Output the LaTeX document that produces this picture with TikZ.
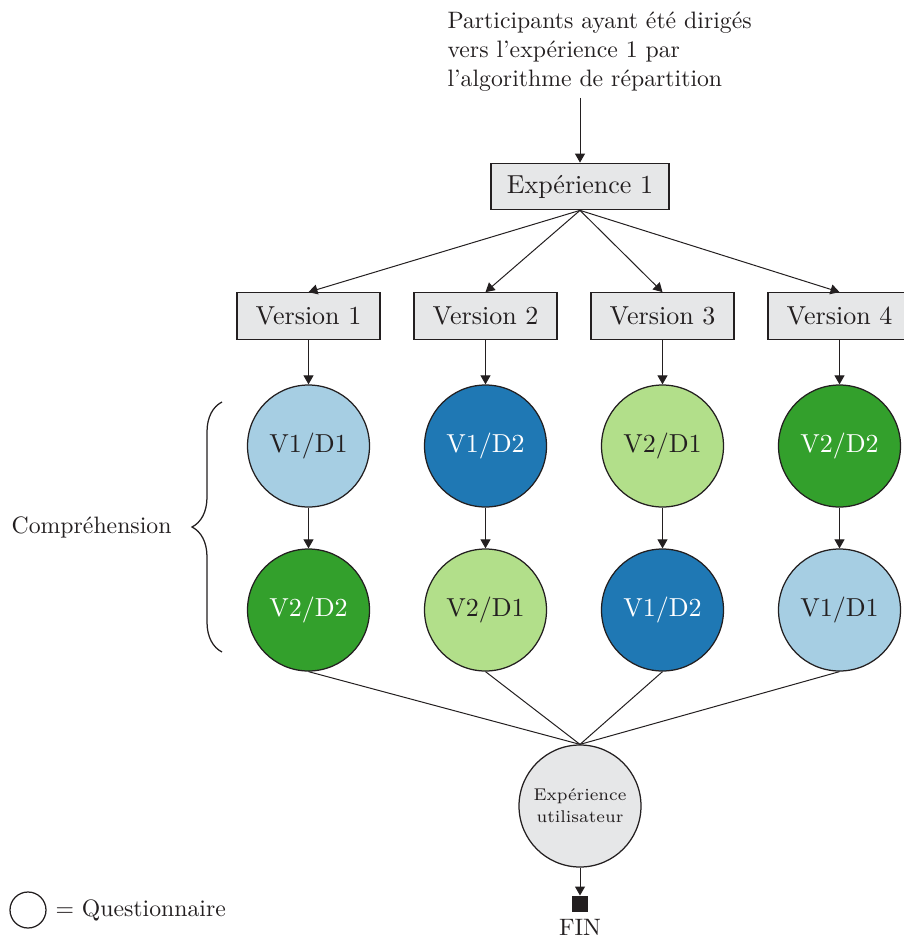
\documentclass[tikz,border=0pt]{standalone}
\usetikzlibrary{arrows.meta,decorations.pathreplacing}
\definecolor{boxgray}{RGB}{230,231,232}
\definecolor{lblue}{HTML}{A6CEE3}
\definecolor{dblue}{HTML}{1F78B4}
\definecolor{lgreen}{HTML}{B2DF8A}
\definecolor{dgreen}{HTML}{33A02C}
\definecolor{ink}{RGB}{35,31,32}
\begin{document}
\begin{tikzpicture}[x=0.4pt,y=-0.4pt,
  every node/.style={text=ink,font=\fontsize{9.5pt}{11.7pt}\selectfont},
  bigtext/.style={font=\fontsize{10.4pt}{12.5pt}\selectfont},
  stepbox/.style={bigtext,draw=ink,fill=boxgray,line width=0.5pt,minimum height=18.6pt,minimum width=57.2pt,inner xsep=3pt,inner ysep=0pt},
  quest/.style={bigtext,circle,draw=ink,line width=0.5pt,minimum size=48.8pt,inner sep=0pt},
  arr/.style={-{Triangle[length=3.6pt,width=4pt]},draw=ink,line width=0.4pt},
  link/.style={draw=ink,line width=0.4pt}]
\useasboundingbox (0,0) rectangle (903,939);

% entry text and first step
\node[anchor=north west,align=left,inner sep=0pt] (intro) at (447,11)
  {Participants ayant été dirigés\\vers l'expérience 1 par\\l'algorithme de répartition};
\coordinate (introarr) at (580,98);
\node[stepbox,minimum width=71.2pt] (exp) at (580,186.5) {Expérience 1};
\draw[arr] (introarr) -- (exp.north);

% the four versions
\node[stepbox] (v1) at (308.5,316) {Version 1};
\node[stepbox] (v2) at (485.5,316) {Version 2};
\node[stepbox] (v3) at (662.5,316) {Version 3};
\node[stepbox] (v4) at (839.5,316) {Version 4};
\foreach \v in {v1,v2,v3,v4} \draw[arr] (exp.south) -- (\v.north);

% comprehension questionnaires
\node[quest,fill=lblue] (a1) at (308.5,446) {V1/D1};
\node[quest,fill=dblue,text=white] (a2) at (485.5,446) {V1/D2};
\node[quest,fill=lgreen] (a3) at (662.5,446) {V2/D1};
\node[quest,fill=dgreen,text=white] (a4) at (839.5,446) {V2/D2};
\node[quest,fill=dgreen,text=white] (b1) at (308.5,610) {V2/D2};
\node[quest,fill=lgreen] (b2) at (485.5,610) {V2/D1};
\node[quest,fill=dblue,text=white] (b3) at (662.5,610) {V1/D2};
\node[quest,fill=lblue] (b4) at (839.5,610) {V1/D1};
\foreach \i in {1,2,3,4} {
  \draw[arr] (v\i.south) -- (a\i.north);
  \draw[arr] (a\i.south) -- (b\i.north);
}

% brace and label
\coordinate (brb) at (222,652);
\coordinate (brt) at (222,402);
\draw[ink,line width=0.5pt,decorate,decoration={brace,amplitude=12pt}] (brb) -- (brt);
\node[anchor=east,inner sep=0pt] (comp) at (172,527) {Compréhension};

% user experience questionnaire
\node[quest,fill=boxgray,font=\fontsize{6.8pt}{8.8pt}\selectfont,align=center] (ux) at (580,806) {Expérience\\utilisateur};
\foreach \i in {1,2,3,4} \draw[link] (b\i.south) -- (ux.north);

% end
\node[fill=ink,minimum size=6.4pt,inner sep=0pt] (end) at (580,904) {};
\draw[arr] (ux.south) -- (end.north);
\node[anchor=north,inner sep=0pt] (fin) at (end.south) [yshift=-2.5pt] {FIN};

% legend
\node[circle,draw=ink,line width=0.5pt,minimum size=14.4pt,inner sep=0pt] (leg) at (28,910) {};
\node[anchor=west,inner sep=0pt] (legtxt) at (55,910) {= Questionnaire};
\end{tikzpicture}
\end{document}
